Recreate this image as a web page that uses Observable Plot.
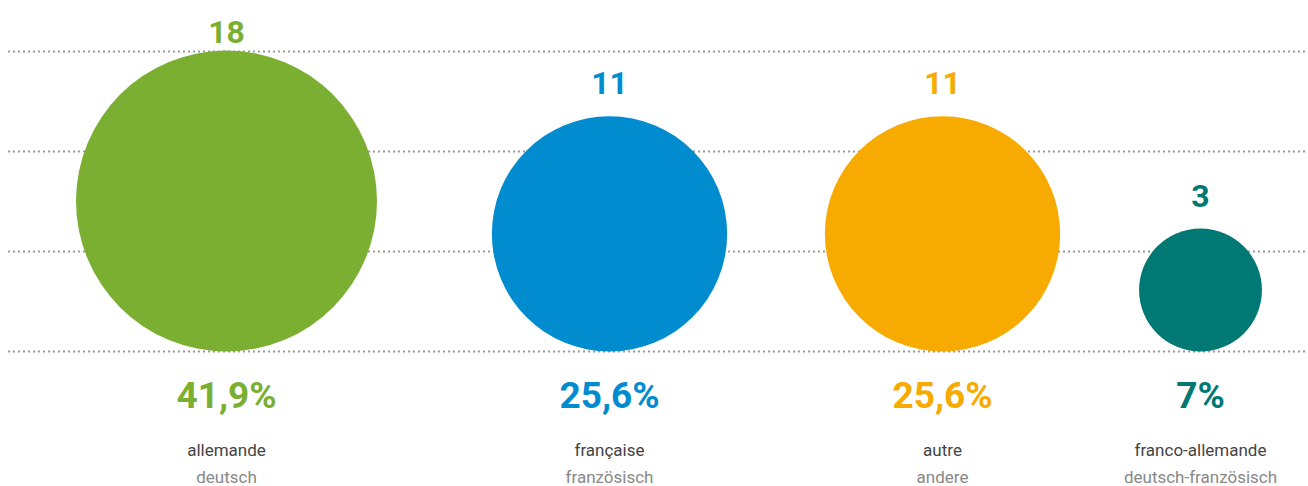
<!DOCTYPE html>
<html>
<head>
<meta charset="utf-8">
<script src="https://cdn.jsdelivr.net/npm/d3@7"></script>
<script src="https://cdn.jsdelivr.net/npm/@observablehq/plot@0.6"></script>
<style>
  html, body { margin: 0; padding: 0; background: #fff; }
  svg { display: block; font-family: Roboto, sans-serif; }
</style>
</head>
<body>
<div id="chart"></div>
<script>
const categories = ["allemande", "française", "autre", "franco-allemande"];
const labelsDe = ["deutsch", "französisch", "andere", "deutsch-französisch"];
const counts = [18, 11, 11, 3];
const percents = ["41,9%", "25,6%", "25,6%", "7%"];
const colors = ["#7aaf31", "#008ccf", "#f7aa00", "#007873"];

// layout
const gridLines = [51, 151, 251, 351];
const baseline = 351;
const maxR = 150.5;
const xCenters = d3.scaleOrdinal().domain(categories).range([226, 609, 942, 1200]);
const rScale = d3.scaleSqrt().domain([0, 18]).range([0, maxR]);

const data = categories.map((c, i) => ({
  cat: c,
  de: labelsDe[i],
  count: counts[i],
  pct: percents[i],
  color: colors[i]
}));

const cx = d => xCenters(d.cat);
const cy = d => baseline - rScale(d.count);
const numY = d => Math.max(42, baseline - 2 * rScale(d.count) - 22);

const chart = Plot.plot({
  width: 1308,
  height: 486,
  marginLeft: 8,
  marginRight: 0,
  marginTop: 0,
  marginBottom: 0,
  x: { type: "identity", axis: null },
  y: { type: "identity", axis: null },
  r: { type: "sqrt", domain: [0, 18], range: [0, maxR] },
  style: { fontFamily: "Roboto, sans-serif", background: "#fff" },
  marks: [
    Plot.ruleY(gridLines, { x1: 8, x2: 1308, stroke: "#999", strokeWidth: 2, strokeDasharray: "2 3" }),
    Plot.dot(data, { x: cx, y: cy, r: "count", fill: d => d.color, stroke: null }),
    Plot.text(data, { x: cx, y: numY, text: d => String(d.count), fill: d => d.color, fontSize: 32, fontWeight: "bold", lineAnchor: "bottom", textAnchor: "middle" }),
    Plot.text(data, { x: cx, y: () => 407, text: "pct", fill: d => d.color, fontSize: 37, fontWeight: "bold", lineAnchor: "bottom", textAnchor: "middle" }),
    Plot.text(data, { x: cx, y: () => 455, text: "cat", fill: "#444", fontSize: 17, lineAnchor: "bottom", textAnchor: "middle" }),
    Plot.text(data, { x: cx, y: () => 482, text: "de", fill: "#888", fontSize: 17, lineAnchor: "bottom", textAnchor: "middle" })
  ]
});
document.getElementById("chart").appendChild(chart);
</script>
</body>
</html>
